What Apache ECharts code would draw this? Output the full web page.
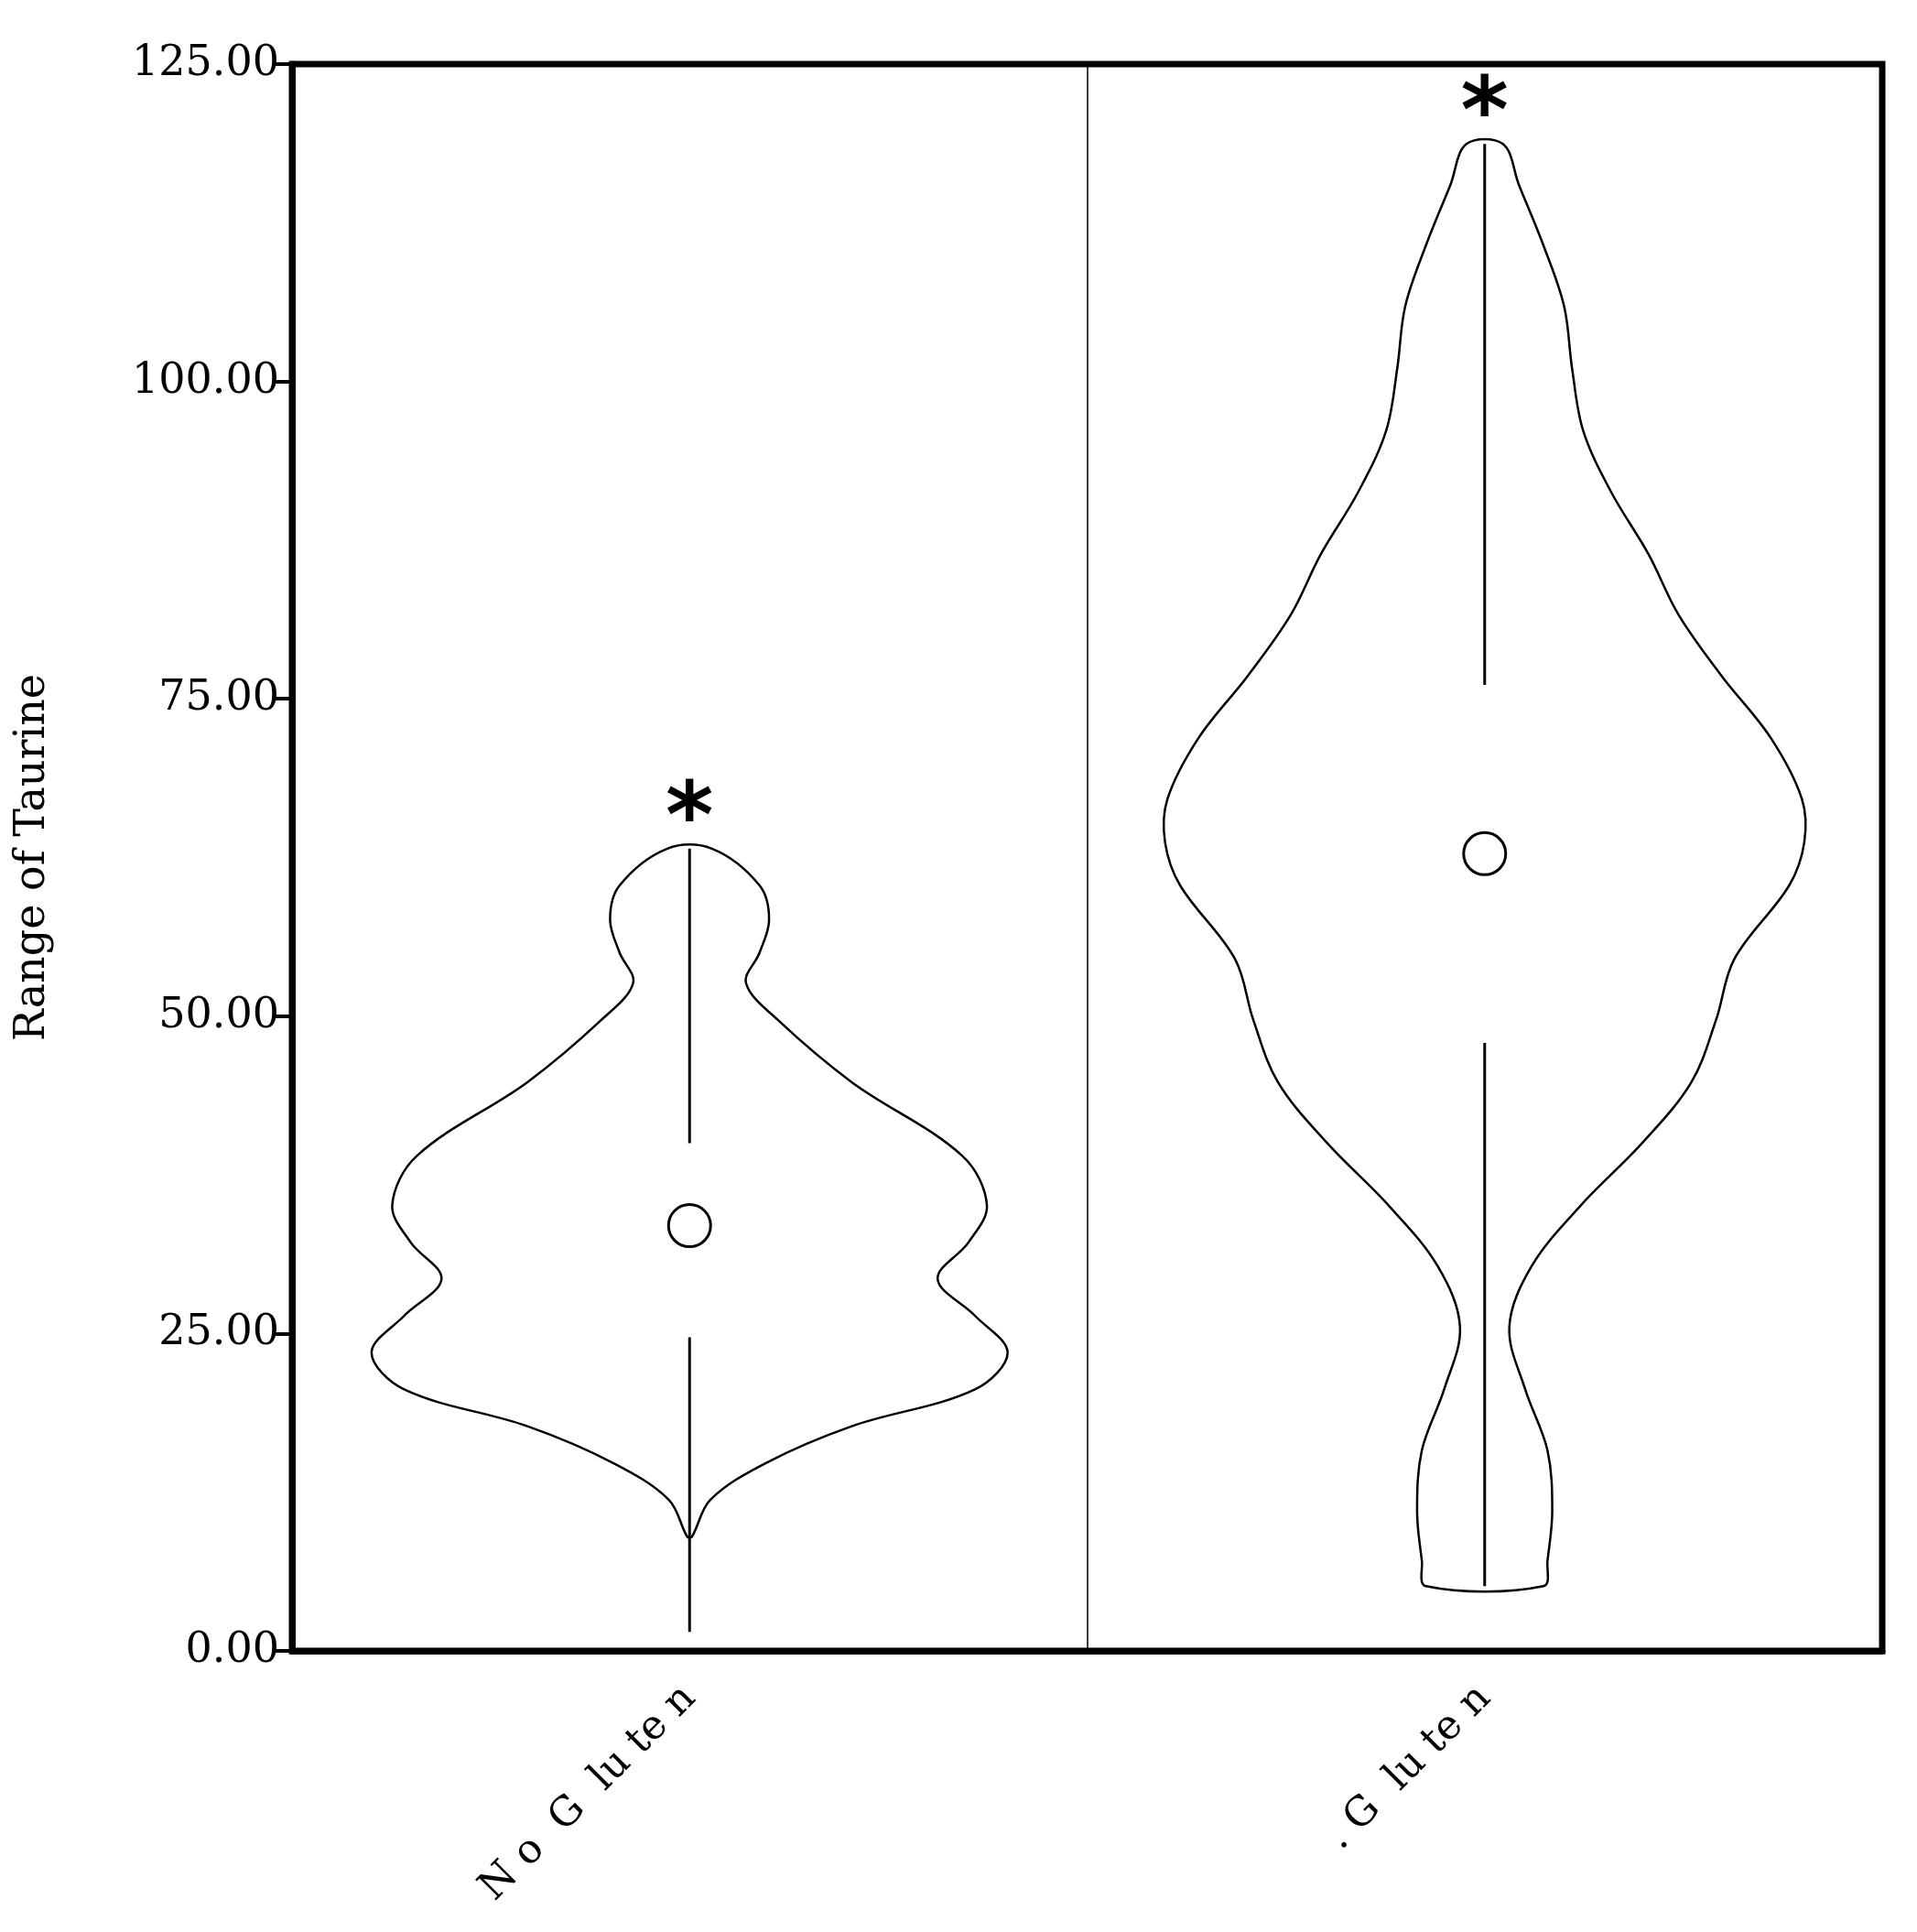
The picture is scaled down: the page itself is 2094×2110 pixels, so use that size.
<!DOCTYPE html>
<html>
<head>
<meta charset="utf-8">
<script src="https://cdn.jsdelivr.net/npm/echarts@6/dist/echarts.min.js"></script>
<style>html,body{margin:0;background:#fff}#main{width:2094px;height:2110px}</style>
</head>
<body>
<div id="main"></div>
<script>
// groups
var categories = ['N o  G  lu te n', '. G  lu te n'];
var yTicks = [0, 25, 50, 75, 100, 125];

// violin outline: taurine level and half width (fraction of the category band)
var noGlutenLevels = [63.2, 60.3, 57.6, 55, 52.6, 49.7, 44.8, 39, 35.1, 32.2, 29.3, 26.4, 23.5, 20.6, 17.7, 14.8, 11.9, 9];
var noGlutenWidths = [0.028, 0.088, 0.100, 0.088, 0.071, 0.111, 0.204, 0.343, 0.374, 0.351, 0.312, 0.359, 0.400, 0.359, 0.204, 0.096, 0.026, 0.003];
var glutenLevels = [118.7, 115.5, 110.7, 105.9, 101, 96.1, 91.3, 86.4, 81.6, 76.8, 71.9, 67.1, 63.7, 60.3, 54.5, 49.7, 44.8, 40, 35.1, 30.3, 25.5, 20.6, 15.8, 11, 7.1, 5.1];
var glutenWidths = [0.023, 0.043, 0.074, 0.100, 0.110, 0.124, 0.159, 0.206, 0.244, 0.298, 0.360, 0.399, 0.402, 0.383, 0.314, 0.291, 0.260, 0.198, 0.121, 0.059, 0.031, 0.051, 0.079, 0.085, 0.079, 0.074];

// whiskers [upper from, upper to, lower from, lower to], mean
var whiskers = [[63.2, 40, 24.7, 1.5], [118.7, 76.1, 47.9, 5.1]];
var means = [33.5, 62.8];

var profiles = [[noGlutenLevels, noGlutenWidths], [glutenLevels, glutenWidths]];

var serif = '"DejaVu Serif", "Liberation Serif", serif';

function renderViolin(params, api) {
    var i = api.value(0);
    var band = api.size([1, 0])[0];
    var cx = api.coord([i, 0])[0];
    var lv = profiles[i][0], wd = profiles[i][1];
    var left = [], right = [];
    for (var k = 0; k < lv.length; k++) {
        var y = api.coord([i, lv[k]])[1];
        left.push([cx - wd[k] * band, y]);
        right.unshift([cx + wd[k] * band, y]);
    }
    var pts = left.concat(right);
    var w = whiskers[i];
    var line = {stroke: '#000', lineWidth: 3, fill: null};
    var top = api.coord([i, w[0]])[1];
    var mean = api.coord([i, means[i]]);
    return {
        type: 'group',
        children: [
            {type: 'polygon', shape: {points: pts, smooth: 0.35}, style: {stroke: '#000', lineWidth: 2.5, fill: 'none'}},
            {type: 'line', shape: {x1: cx, y1: top, x2: cx, y2: api.coord([i, w[1]])[1]}, style: line},
            {type: 'line', shape: {x1: cx, y1: api.coord([i, w[2]])[1], x2: cx, y2: api.coord([i, w[3]])[1]}, style: line},
            {type: 'circle', shape: {cx: cx, cy: mean[1], r: 23}, style: {stroke: '#000', lineWidth: 3, fill: '#fff'}},
            {type: 'text', style: {text: '*', x: cx, y: top + 22, align: 'center', verticalAlign: 'bottom',
                font: 'bold 100px "DejaVu Sans", sans-serif', fill: '#000'}}
        ]
    };
}

var myChart = echarts.init(document.getElementById('main'));
var option = {
    animation: false,
    backgroundColor: '#fff',
    grid: {left: 319, right: 38, top: 70, bottom: 307, show: true, borderColor: '#000', borderWidth: 7},
    xAxis: {
        type: 'category',
        data: categories,
        axisLine: {lineStyle: {color: '#000', width: 7}},
        axisTick: {alignWithLabel: true, length: 28, lineStyle: {color: '#000', width: 4}},
        splitLine: {show: true, lineStyle: {color: '#000', width: 1.5}},
        axisLabel: {rotate: 45, margin: 45, color: '#000', fontFamily: serif, fontSize: 44}
    },
    yAxis: {
        type: 'value',
        min: 0, max: 125, interval: 25,
        name: 'Range of Taurine',
        nameLocation: 'middle',
        nameGap: 260,
        nameTextStyle: {fontFamily: serif, fontSize: 46, color: '#000'},
        axisLine: {show: true, lineStyle: {color: '#000', width: 7}},
        axisTick: {show: true, length: 20, lineStyle: {color: '#000', width: 4}},
        splitLine: {show: false},
        axisLabel: {color: '#000', fontFamily: serif, fontSize: 46, margin: 14,
            formatter: function (v) { return v.toFixed(2); }}
    },
    series: [{
        type: 'custom',
        renderItem: renderViolin,
        data: [[0], [1]],
        encode: {x: 0},
        clip: false
    }]
};
myChart.setOption(option);
</script>
</body>
</html>
